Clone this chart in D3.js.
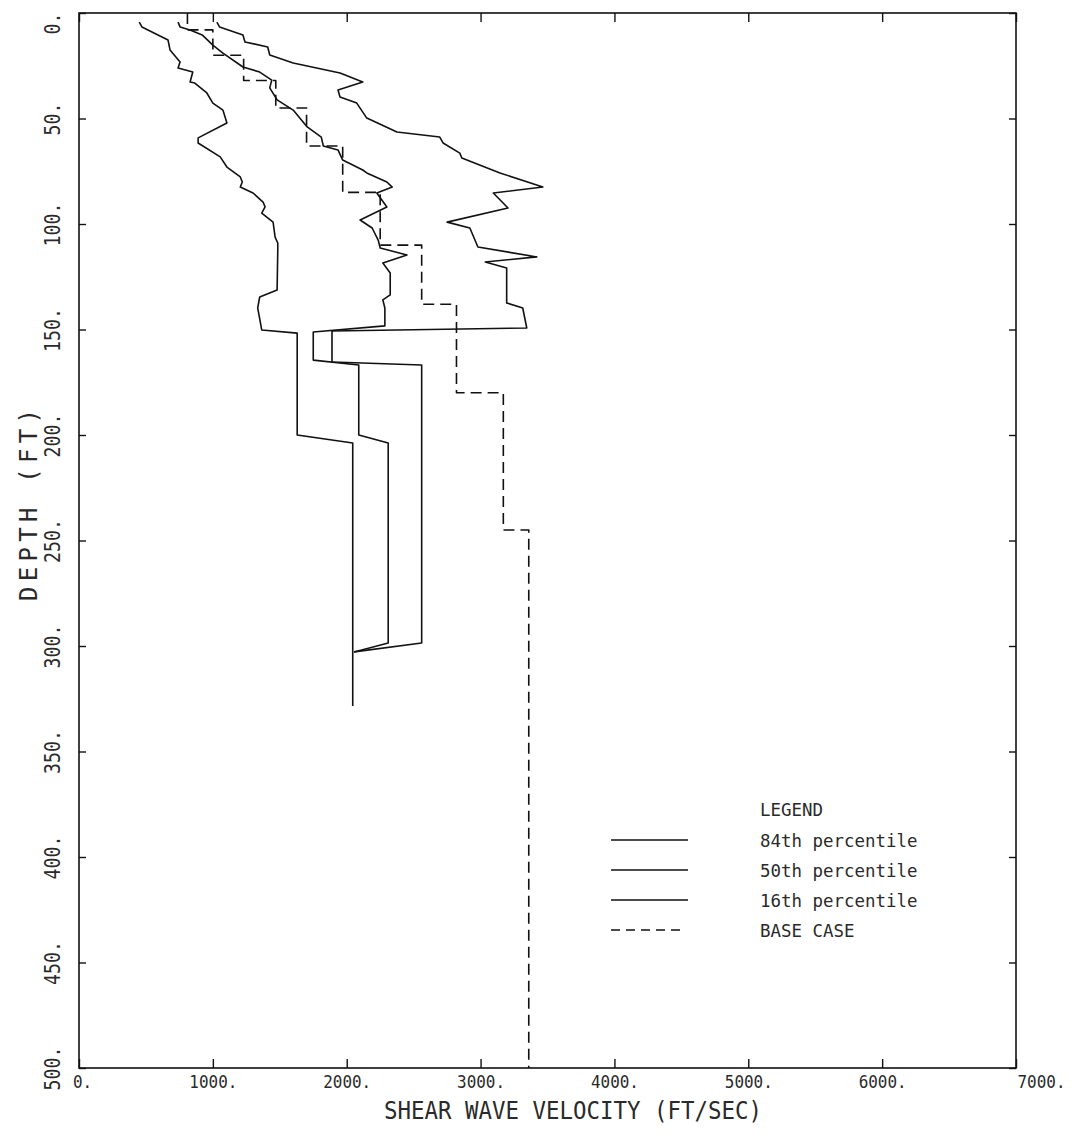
<!DOCTYPE html>
<html>
<head>
<meta charset="utf-8">
<script src="https://cdn.jsdelivr.net/npm/d3@7"></script>
<style>
  body { margin: 0; background: #fff; }
  svg text { font-family: "DejaVu Sans Mono", "Liberation Mono", monospace; fill: #2a2a2a; }
  .line { fill: none; stroke: #111; stroke-width: 1.6; stroke-linejoin: round; }
  .base { stroke-dasharray: 11, 6; }
  .legend .base { stroke-dasharray: 9, 6; }
  .tick line { stroke: #111; stroke-width: 1.4; }
</style>
</head>
<body>
<div id="chart"></div>
<script>
// axis ticks
let velTicks = [0, 1000, 2000, 3000, 4000, 5000, 6000, 7000];
let depthTicks = [0, 50, 100, 150, 200, 250, 300, 350, 400, 450, 500];

// profiles: [depth (ft), shear wave velocity (ft/sec)]
let p84 = [
    [4.3, 1030], [6.6, 1050], [10.4, 1225], [13.7, 1240], [16.1, 1410], [19.9, 1425],
    [23.7, 1600], [28.4, 1950], [32.7, 2120], [36.5, 1935], [39.8, 1950], [42.7, 2075],
    [49.8, 2150], [56.4, 2375], [58.8, 2695], [61.6, 2720], [66.4, 2845], [68.7, 2860],
    [75.8, 3145], [82.5, 3465], [85.3, 3095], [92.4, 3205], [99.1, 2750], [101.9, 2920],
    [110.9, 2980], [115.6, 3420], [118.0, 3035], [120.9, 3195], [137.4, 3195], [139.8, 3315],
    [149.3, 3345], [150.7, 1890], [165.4, 1890], [166.8, 2560], [298.6, 2560], [302.8, 2055]
];

let p50 = [
    [4.3, 740], [6.6, 755], [8.1, 830], [10.4, 920], [15.2, 1000], [19.0, 1075],
    [25.6, 1225], [28.0, 1350], [31.8, 1440], [35.5, 1425], [41.2, 1480], [46.0, 1600],
    [54.0, 1705], [58.8, 1810], [63.0, 1825], [64.9, 1935], [69.7, 1970], [74.4, 2120],
    [75.8, 2150], [80.1, 2300], [82.5, 2340], [85.3, 2225], [91.9, 2300], [98.1, 2100],
    [101.9, 2190], [107.6, 2235], [111.4, 2250], [114.7, 2450], [118.5, 2270], [123.2, 2325],
    [133.6, 2325], [136.0, 2270], [139.8, 2285], [148.3, 2285], [151.2, 1750], [164.5, 1750],
    [166.8, 2090], [200.0, 2090], [203.8, 2310], [298.6, 2310], [302.8, 2055]
];

let p16 = [
    [4.3, 450], [6.6, 470], [12.8, 665], [17.5, 680], [23.2, 755], [26.1, 740],
    [28.0, 850], [32.7, 830], [33.2, 865], [37.9, 955], [42.7, 1000], [46.0, 1075],
    [52.1, 1105], [59.2, 890], [61.6, 890], [68.2, 1055], [73.0, 1105], [77.7, 1205],
    [80.1, 1220], [82.5, 1205], [85.3, 1300], [89.6, 1375], [91.9, 1390], [94.8, 1365],
    [99.1, 1450], [106.2, 1465], [109.0, 1485], [112.3, 1485], [131.3, 1480], [134.6, 1350],
    [139.8, 1335], [150.2, 1365], [151.7, 1630], [200.0, 1630], [203.8, 2045], [328.4, 2045]
];

// base case layers: top depth of each layer and its velocity
let baseDepth = [0, 8, 20, 32, 45, 63, 85, 110, 138, 180, 245];
let baseVel = [810, 1000, 1230, 1470, 1700, 1970, 2250, 2560, 2820, 3170, 3360];
let baseBottom = 500;

let legendNames = ["84th percentile", "50th percentile", "16th percentile", "BASE CASE"];

let W = 1077, H = 1147;
let plot = { left: 79, right: 1016, top: 13, bottom: 1068 };

let svg = d3.select("#chart").append("svg")
    .attr("width", W)
    .attr("height", H);

let x = d3.scaleLinear().domain([0, 7000]).range([plot.left, plot.right]);
let y = d3.scaleLinear().domain([0, 500]).range([plot.top, plot.bottom]);

// frame
svg.append("rect")
    .attr("x", plot.left).attr("y", plot.top)
    .attr("width", plot.right - plot.left)
    .attr("height", plot.bottom - plot.top)
    .style("fill", "none").style("stroke", "#111").style("stroke-width", 1.6);

// bottom axis, ticks pointing in
let xAxis = svg.append("g")
    .attr("transform", "translate(0," + plot.bottom + ")")
    .call(d3.axisBottom(x).tickValues(velTicks).tickSize(-9).tickSizeOuter(0).tickPadding(7)
        .tickFormat(d => d + "."));
xAxis.select(".domain").remove();
xAxis.selectAll("text")
    .style("font-size", "18px")
    .style("fill", "#2a2a2a")
    .attr("textLength", d => (d + ".").length * 9.6)
    .attr("lengthAdjust", "spacingAndGlyphs");
// last label sits right of the frame corner like in the original plot
xAxis.selectAll("text").filter(d => d == 7000)
    .style("text-anchor", "start").attr("dx", 1);
xAxis.selectAll("text").filter(d => d == 0).attr("dx", 3);

// top axis (ticks only)
let xTop = svg.append("g")
    .attr("transform", "translate(0," + plot.top + ")")
    .call(d3.axisTop(x).tickValues(velTicks).tickSize(-9).tickSizeOuter(0).tickFormat(""));
xTop.select(".domain").remove();

// left axis with rotated labels
let yAxis = svg.append("g")
    .attr("transform", "translate(" + plot.left + ",0)")
    .call(d3.axisLeft(y).tickValues(depthTicks).tickSize(-7).tickSizeOuter(0)
        .tickFormat(d => d + "."));
yAxis.select(".domain").remove();
yAxis.selectAll("text")
    .attr("transform", "rotate(-90)")
    .attr("x", d => d == 0 ? -10 : 0)
    .attr("y", -19)
    .attr("dy", 0)
    .style("text-anchor", "middle")
    .style("font-size", "22px")
    .style("fill", "#2a2a2a")
    .attr("textLength", d => (d + ".").length * 11)
    .attr("lengthAdjust", "spacingAndGlyphs");

// right axis (ticks only)
let yRight = svg.append("g")
    .attr("transform", "translate(" + plot.right + ",0)")
    .call(d3.axisRight(y).tickValues(depthTicks).tickSize(-7).tickSizeOuter(0).tickFormat(""));
yRight.select(".domain").remove();

// axis titles
svg.append("text")
    .attr("x", 573)
    .attr("y", 1119)
    .attr("text-anchor", "middle")
    .attr("textLength", 378)
    .attr("lengthAdjust", "spacingAndGlyphs")
    .style("font-size", "24px")
    .text("SHEAR WAVE VELOCITY (FT/SEC)");

svg.append("text")
    .attr("transform", "translate(37,505) rotate(-90)")
    .attr("text-anchor", "middle")
    .attr("textLength", 192)
    .attr("lengthAdjust", "spacing")
    .style("font-size", "24px")
    .text("DEPTH (FT)");

// profiles
let line = d3.line()
    .x(d => x(d[1]))
    .y(d => y(d[0]));

let series = [p84, p50, p16];
svg.selectAll(".pct")
    .data(series)
    .enter().append("path")
    .attr("class", "line pct")
    .attr("d", line);

// base case as a step profile
let basePts = [];
baseDepth.forEach(function(d, i) {
    let next = i < baseDepth.length - 1 ? baseDepth[i + 1] : baseBottom;
    basePts.push([d, baseVel[i]]);
    basePts.push([next, baseVel[i]]);
});
svg.append("path")
    .datum(basePts)
    .attr("class", "line base")
    .attr("d", line);

// legend
let legend = svg.append("g").attr("class", "legend");
legend.append("text")
    .attr("x", 760).attr("y", 816)
    .attr("textLength", 6 * 10.5)
    .attr("lengthAdjust", "spacingAndGlyphs")
    .style("font-size", "17.5px")
    .text("LEGEND");

let rows = legend.selectAll(".row")
    .data(legendNames)
    .enter().append("g")
    .attr("class", "row")
    .attr("transform", (d, i) => "translate(0," + (840 + i * 30) + ")");

rows.append("line")
    .attr("x1", 611).attr("x2", (d, i) => i == 3 ? 682 : 688)
    .attr("y1", 0).attr("y2", 0)
    .attr("class", (d, i) => i == 3 ? "line base" : "line");

rows.append("text")
    .attr("x", 760).attr("y", 7)
    .attr("textLength", d => d.length * 10.5)
    .attr("lengthAdjust", "spacingAndGlyphs")
    .style("font-size", "17.5px")
    .text(d => d);
</script>
</body>
</html>
